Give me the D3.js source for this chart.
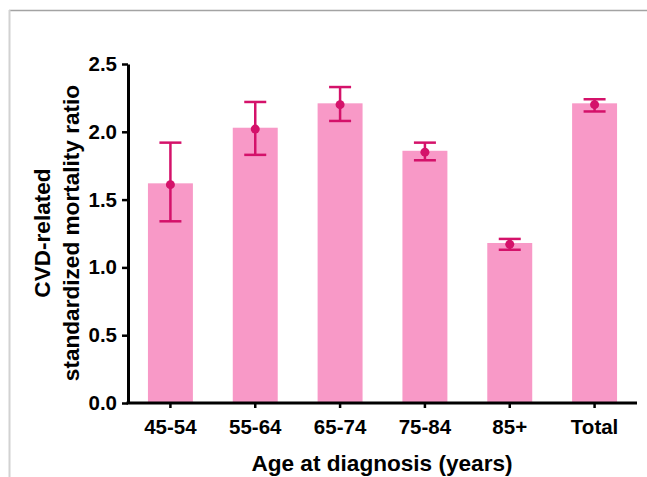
<!DOCTYPE html>
<html>
<head>
<meta charset="utf-8">
<script src="https://cdn.jsdelivr.net/npm/d3@7"></script>
<style>
  body { margin: 0; background: #fff; }
  text { font-family: "Liberation Sans", Arial, sans-serif; font-weight: bold; fill: #000; }
</style>
</head>
<body>
<svg id="chart" width="647" height="477"></svg>
<script>
// age groups and the standardized mortality ratios
const groups = ["45-54", "55-64", "65-74", "75-84", "85+", "Total"];
const barValues = [1.62, 2.03, 2.21, 1.86, 1.18, 2.21];
const pointValues = [1.61, 2.02, 2.20, 1.85, 1.17, 2.20];
const ciLower = [1.34, 1.83, 2.08, 1.79, 1.13, 2.15];
const ciUpper = [1.92, 2.22, 2.33, 1.92, 1.21, 2.24];
const yTicks = [0, 0.5, 1.0, 1.5, 2.0, 2.5];

const barColor = "#f899c7";
const errColor = "#d4126a";

const svg = d3.select("#chart");

// frame around the figure
svg.append("line")
    .attr("x1", 9).attr("x2", 647).attr("y1", 10.5).attr("y2", 10.5)
    .attr("stroke", "#a3a3a3").attr("stroke-width", 1.5);
svg.append("line")
    .attr("x1", 9.5).attr("x2", 9.5).attr("y1", 10).attr("y2", 477)
    .attr("stroke", "#d2d2d2").attr("stroke-width", 2);

const x = d3.scaleBand()
    .domain(groups)
    .range([128, 637])
    .paddingInner(0.47)
    .paddingOuter(0.235);

const y = d3.scaleLinear()
    .domain([0, 2.5])
    .range([403, 64]);

const rows = groups.map((g, i) => ({
    group: g, bar: barValues[i], point: pointValues[i], lo: ciLower[i], hi: ciUpper[i]
}));

// bars
svg.append("g").selectAll("rect")
    .data(rows)
    .enter().append("rect")
    .attr("x", d => x(d.group))
    .attr("y", d => y(d.bar))
    .attr("width", x.bandwidth())
    .attr("height", d => y(0) - y(d.bar))
    .attr("fill", barColor);

// error bars
const err = svg.append("g")
    .attr("stroke", errColor)
    .attr("stroke-width", 2.5)
    .attr("fill", "none");
const cx = d => x(d.group) + x.bandwidth() / 2;
const capHalf = 11;

err.selectAll(".stem")
    .data(rows)
    .enter().append("line")
    .attr("x1", cx).attr("x2", cx)
    .attr("y1", d => y(d.lo)).attr("y2", d => y(d.hi));
err.selectAll(".capHi")
    .data(rows)
    .enter().append("line")
    .attr("x1", d => cx(d) - capHalf).attr("x2", d => cx(d) + capHalf)
    .attr("y1", d => y(d.hi)).attr("y2", d => y(d.hi));
err.selectAll(".capLo")
    .data(rows)
    .enter().append("line")
    .attr("x1", d => cx(d) - capHalf).attr("x2", d => cx(d) + capHalf)
    .attr("y1", d => y(d.lo)).attr("y2", d => y(d.lo));

svg.append("g").selectAll("circle")
    .data(rows)
    .enter().append("circle")
    .attr("cx", cx)
    .attr("cy", d => y(d.point))
    .attr("r", 4.5)
    .attr("fill", errColor);

// axes
const yAxis = svg.append("g")
    .attr("transform", "translate(128,0)")
    .call(d3.axisLeft(y).tickValues(yTicks).tickFormat(d3.format(".1f"))
        .tickSize(6).tickSizeOuter(0).tickPadding(5));

const xAxis = svg.append("g")
    .attr("transform", "translate(0,403)")
    .call(d3.axisBottom(x).tickSize(5).tickSizeOuter(0).tickPadding(11));

[xAxis, yAxis].forEach(ax => {
    ax.select(".domain").attr("stroke", "#000").attr("stroke-width", 3);
    ax.selectAll(".tick line").attr("stroke", "#000").attr("stroke-width", 2.5);
    ax.selectAll(".tick text").style("font-size", "20.5px").attr("fill", "#000")
        .style("font-family", "'Liberation Sans', Arial, sans-serif").style("font-weight", "bold");
});
// extend x domain into the corner
xAxis.select(".domain").attr("d", "M126.5,0H637");

// axis titles
svg.append("text")
    .attr("x", 382)
    .attr("y", 471)
    .attr("text-anchor", "middle")
    .style("font-size", "22.6px")
    .text("Age at diagnosis (years)");

const yTitle = svg.append("text")
    .attr("transform", "translate(0,233) rotate(-90)")
    .attr("text-anchor", "middle")
    .style("font-size", "22.6px");
yTitle.append("tspan").attr("x", 0).attr("y", 50).text("CVD-related");
yTitle.append("tspan").attr("x", 0).attr("y", 79).text("standardized mortality ratio");
</script>
</body>
</html>
